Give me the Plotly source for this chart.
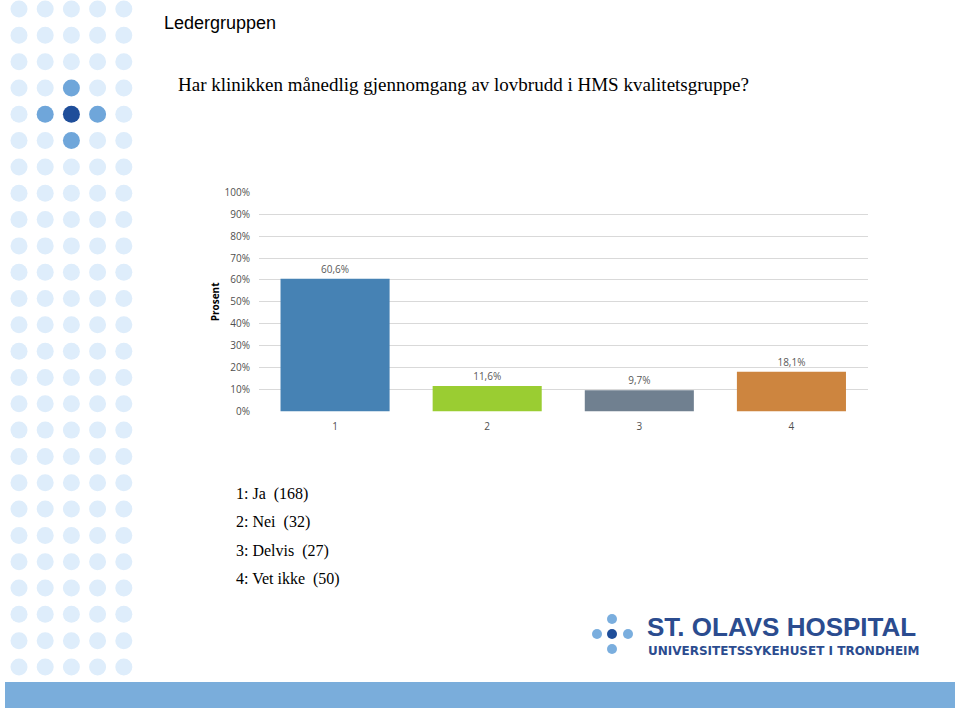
import plotly.graph_objects as go

W, H = 960, 711

# ---- data ----
categories = ["1", "2", "3", "4"]
values = [60.6, 11.6, 9.7, 18.1]
bar_colors = ["#4682b4", "#9acd32", "#708090", "#cd853f"]
answer_labels = ["1: Ja", "2: Nei", "3: Delvis", "4: Vet ikke"]
answer_counts = [168, 32, 27, 50]
y_ticks = [0, 10, 20, 30, 40, 50, 60, 70, 80, 90, 100]
y_tick_labels = [f"{t}%" for t in y_ticks]

bar_text = [f"{v:.1f}".replace(".", ",") + "%" for v in values]


def px(x):
    return x / W


def py(y):
    return 1 - y / H


fig = go.Figure()
fig.add_trace(go.Bar(
    x=categories, y=values, marker_color=bar_colors, marker_line_width=0,
    text=bar_text, textposition="outside", cliponaxis=False,
    textfont=dict(family="Open Sans", size=10, color="#595959"),
))

shapes = []
# decorative dot grid on the left
col_x = [19 + 26.2 * i for i in range(5)]
row_y = [9 + 26.32 * j for j in range(26)]
dark = {(2, 4)}
medium = {(2, 3), (1, 4), (3, 4), (2, 5)}
r = 8.5
for j, yy in enumerate(row_y):
    for i, xx in enumerate(col_x):
        if (i, j) in dark:
            c = "#1f4e9a"
        elif (i, j) in medium:
            c = "#6fa6da"
        else:
            c = "#deedfb"
        shapes.append(dict(type="circle", xref="paper", yref="paper",
                           x0=px(xx - r), x1=px(xx + r), y0=py(yy + r), y1=py(yy - r),
                           fillcolor=c, line_width=0, layer="below"))

# logo dots
lr = 5
logo_dots = [(612, 619, "#7aaede"), (597, 634, "#7aaede"), (612, 634, "#1f4e9a"),
             (628, 634, "#7aaede"), (612, 649, "#7aaede")]
for xx, yy, c in logo_dots:
    shapes.append(dict(type="circle", xref="paper", yref="paper",
                       x0=px(xx - lr), x1=px(xx + lr), y0=py(yy + lr), y1=py(yy - lr),
                       fillcolor=c, line_width=0))

# bottom bar
shapes.append(dict(type="rect", xref="paper", yref="paper",
                   x0=px(5), x1=px(955), y0=py(708), y1=py(682),
                   fillcolor="#7aaddb", line_width=0))

annotations = [
    dict(text="Ledergruppen", x=px(162), y=py(23), xanchor="left", yanchor="middle",
         font=dict(family="Liberation Sans", size=18, color="#000000")),
    dict(text="Har klinikken månedlig gjennomgang av lovbrudd i HMS kvalitetsgruppe?",
         x=px(176), y=py(85), xanchor="left", yanchor="middle",
         font=dict(family="Liberation Serif", size=19, color="#000000")),
    dict(text="ST. OLAVS HOSPITAL", x=px(645), y=py(627), xanchor="left", yanchor="middle",
         font=dict(family="Liberation Sans", size=26, color="#2b4c8f", weight="bold")),
    dict(text="UNIVERSITETSSYKEHUSET I TRONDHEIM", x=px(646), y=py(651), xanchor="left",
         yanchor="middle",
         font=dict(family="DejaVu Sans", size=12, color="#2b4c8f", weight="bold")),
]
for k, (lab, cnt) in enumerate(zip(answer_labels, answer_counts)):
    annotations.append(dict(
        text=f"{lab}\u00a0\u00a0({cnt})", x=px(234), y=py(494 + 28.3 * k),
        xanchor="left", yanchor="middle",
        font=dict(family="Liberation Serif", size=16, color="#000000")))
for a in annotations:
    a.update(xref="paper", yref="paper", showarrow=False)

fig.update_layout(
    width=W, height=H, margin=dict(l=0, r=0, t=0, b=0, pad=0, autoexpand=False),
    paper_bgcolor="white", plot_bgcolor="white",
    showlegend=False, bargap=0.283,
    shapes=shapes, annotations=annotations,
    xaxis=dict(domain=[px(259), px(867.5)], showgrid=False, zeroline=False,
               automargin=False, ticklabelstandoff=7,
               tickfont=dict(family="Open Sans", size=10, color="#505050"),
               ticks="", showline=False),
    yaxis=dict(domain=[py(411.5), py(192.3)], range=[0, 100], tickvals=y_ticks,
               ticktext=y_tick_labels, showgrid=True, gridcolor="#d9d9d9",
               gridwidth=1, zeroline=False, ticks="", automargin=False,
               ticklabelstandoff=8,
               tickfont=dict(family="Open Sans", size=10, color="#505050"),
               title=dict(text="<b>Prosent</b>", standoff=3,
                          font=dict(family="Open Sans", size=10, color="#000000"))),
)

fig.write_html("out.html", config={"displayModeBar": False},
               post_script="document.body.style.margin='0';"
                           "document.body.style.overflow='hidden';")
